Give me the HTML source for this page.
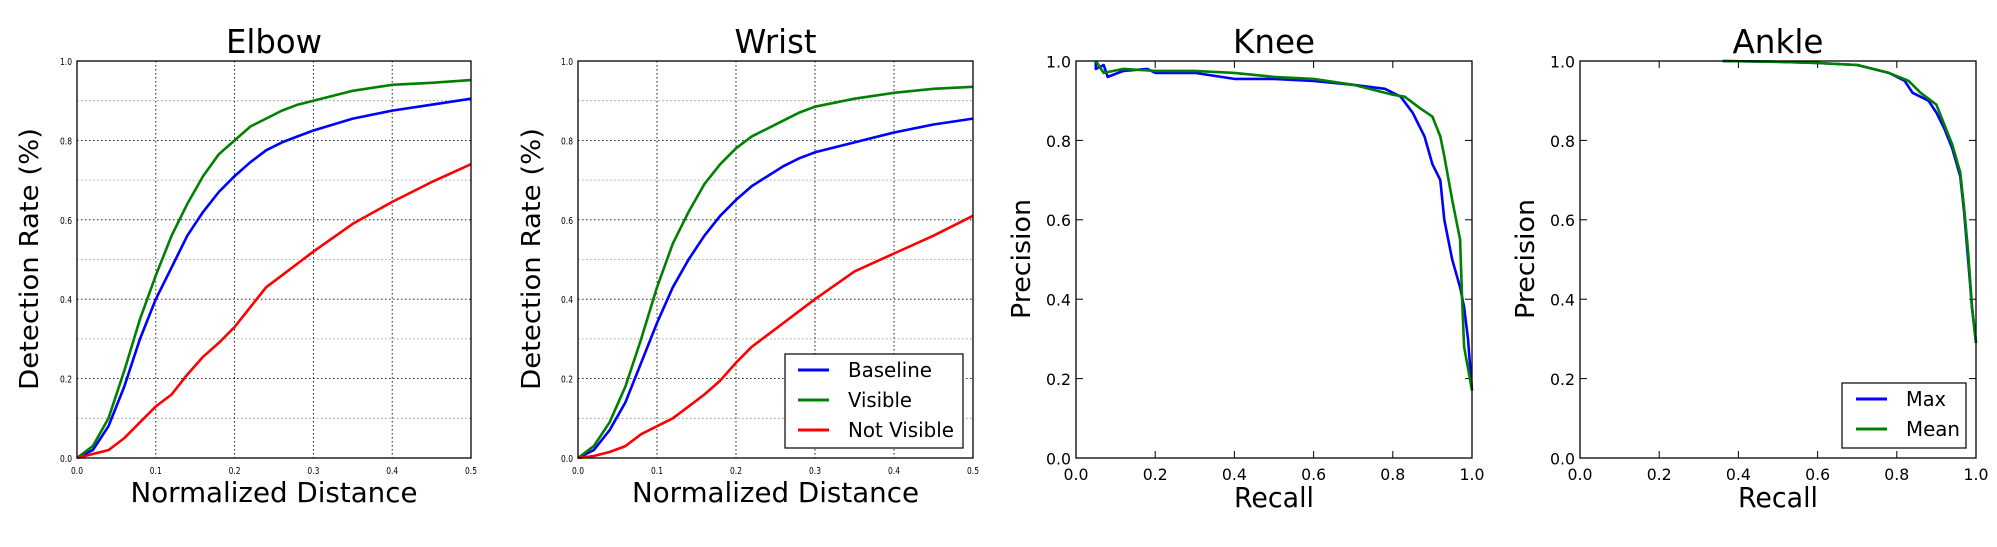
<!DOCTYPE html>
<html><head><meta charset="utf-8"><style>
html,body{margin:0;padding:0;background:#fff;width:1997px;height:547px;overflow:hidden}
svg{display:block;font-family:"DejaVu Sans","Liberation Sans",sans-serif}
</style></head><body>
<svg id="fig" width="1997" height="547" viewBox="0 0 1997 547" xmlns="http://www.w3.org/2000/svg"></svg>
<script>
// ---- data ----
const distX = [0,0.02,0.04,0.06,0.08,0.1,0.12,0.14,0.16,0.18,0.2,0.22,0.24,0.26,0.28,0.3,0.35,0.4,0.45,0.5];
const elbowBaseline = [0,0.02,0.08,0.18,0.30,0.40,0.48,0.56,0.62,0.67,0.71,0.745,0.775,0.795,0.81,0.825,0.855,0.875,0.89,0.905];
const elbowVisible = [0,0.03,0.10,0.22,0.35,0.46,0.56,0.64,0.71,0.765,0.80,0.835,0.855,0.875,0.89,0.90,0.925,0.94,0.945,0.952];
const elbowNotVisible = [0,0.01,0.02,0.05,0.09,0.13,0.16,0.21,0.255,0.29,0.33,0.38,0.43,0.46,0.49,0.52,0.59,0.645,0.695,0.74];
const wristBaseline = [0,0.02,0.07,0.14,0.24,0.34,0.43,0.50,0.56,0.61,0.65,0.685,0.71,0.735,0.755,0.77,0.795,0.82,0.84,0.855];
const wristVisible = [0,0.03,0.09,0.18,0.30,0.43,0.54,0.62,0.69,0.74,0.78,0.81,0.83,0.85,0.87,0.885,0.905,0.92,0.93,0.935];
const wristNotVisible = [0,0.005,0.015,0.03,0.06,0.08,0.10,0.13,0.16,0.195,0.24,0.28,0.31,0.34,0.37,0.40,0.47,0.515,0.56,0.61];
const kneeMaxR = [0.05,0.05,0.07,0.08,0.12,0.18,0.2,0.3,0.4,0.5,0.6,0.7,0.78,0.82,0.85,0.88,0.9,0.92,0.93,0.95,0.97,0.98,0.99,1.0];
const kneeMaxP = [1,0.98,0.99,0.96,0.975,0.98,0.97,0.97,0.955,0.955,0.95,0.94,0.93,0.91,0.87,0.81,0.74,0.70,0.60,0.50,0.43,0.38,0.30,0.17];
const kneeMeanR = [0.05,0.07,0.12,0.2,0.3,0.4,0.5,0.6,0.7,0.8,0.83,0.87,0.9,0.92,0.93,0.95,0.97,0.975,0.98,1.0];
const kneeMeanP = [1,0.97,0.98,0.975,0.975,0.97,0.96,0.955,0.94,0.915,0.91,0.88,0.86,0.81,0.76,0.65,0.55,0.40,0.28,0.17];
const ankleMaxR = [0.36,0.5,0.6,0.7,0.78,0.82,0.84,0.88,0.9,0.92,0.94,0.96,0.97,0.98,0.99,1.0];
const ankleMaxP = [1,0.998,0.995,0.99,0.97,0.95,0.92,0.90,0.87,0.83,0.78,0.71,0.62,0.5,0.38,0.29];
const ankleMeanR = [0.36,0.5,0.6,0.7,0.78,0.83,0.86,0.9,0.92,0.94,0.96,0.97,0.98,0.99,1.0];
const ankleMeanP = [1,0.998,0.995,0.99,0.97,0.95,0.92,0.89,0.84,0.79,0.72,0.63,0.52,0.38,0.29];
const distTicks = ["0.0","0.1","0.2","0.3","0.4","0.5"];
const rateTicks = ["0.0","0.2","0.4","0.6","0.8","1.0"];
const prTicks = ["0.0","0.2","0.4","0.6","0.8","1.0"];

const NS="http://www.w3.org/2000/svg";
const svg=document.getElementById('fig');
function mk(tag,attrs,parent){const e=document.createElementNS(NS,tag);for(const k in attrs)e.setAttribute(k,attrs[k]);(parent||svg).appendChild(e);return e;}
function txt(s,attrs,parent){const t=mk('text',attrs,parent);t.textContent=s;return t;}

function panel(o){
  const g=mk('g',{});
  
  
  const X=v=>o.x0+(v-o.xmin)/(o.xmax-o.xmin)*(o.x1-o.x0);
  const Y=v=>o.y1-(v)/(1)*(o.y1-o.y0);
  if(o.grid){
    for(let i=1;i<10;i+=2){const y=Y(i/10);const l=mk('line',{x1:o.x0,x2:o.x1,y1:y,y2:y,stroke:'#888','stroke-width':0.8,'stroke-dasharray':'1.5,2.5'},g);}
    o.xt.forEach((t,i)=>{const x=X(parseFloat(t));const l=mk('line',{x1:x,x2:x,y1:o.y0,y2:o.y1,stroke:'#000','stroke-width':0.9,'stroke-dasharray':'1.5,2.5'},g);});
    o.yt.forEach((t,i)=>{const y=Y(parseFloat(t));const l=mk('line',{x1:o.x0,x2:o.x1,y1:y,y2:y,stroke:'#000','stroke-width':0.9,'stroke-dasharray':'1.5,2.5'},g);});
  } else {
    o.xt.forEach(t=>{const x=X(parseFloat(t));mk('line',{x1:x,x2:x,y1:o.y1,y2:o.y1-7,stroke:'#000','stroke-width':1},g);mk('line',{x1:x,x2:x,y1:o.y0,y2:o.y0+7,stroke:'#000','stroke-width':1},g);});
    o.yt.forEach(t=>{const y=Y(parseFloat(t));mk('line',{x1:o.x0,x2:o.x0+7,y1:y,y2:y,stroke:'#000','stroke-width':1},g);mk('line',{x1:o.x1,x2:o.x1-7,y1:y,y2:y,stroke:'#000','stroke-width':1},g);});
  }
  o.series.forEach(s=>{
    const d=s.x.map((v,i)=>(i?'L':'M')+X(v).toFixed(1)+','+Y(s.y[i]).toFixed(1)).join('');
    const p=mk('path',{d:d,fill:'none',stroke:s.c,'stroke-width':2.6,'stroke-linejoin':'round'},g);
    
    
  });
  const fr=mk('rect',{x:o.x0,y:o.y0,width:o.x1-o.x0,height:o.y1-o.y0,fill:'none',stroke:'#000','stroke-width':1.3},g);
  
  
  o.xt.forEach(t=>{const e=txt(t,{x:X(parseFloat(t)),y:o.y1+o.tfs+6,'font-size':o.tfs,'text-anchor':'middle',transform:'',textLength:o.tw,lengthAdjust:'spacingAndGlyphs'},g);});
  o.yt.forEach(t=>{const e=txt(t,{x:o.x0-5,y:Y(parseFloat(t))+o.tfs*0.4,'font-size':o.tfs,'text-anchor':'end',textLength:o.tw,lengthAdjust:'spacingAndGlyphs'},g);});
  const cx=(o.x0+o.x1)/2;
  const ti=txt(o.title,{x:cx,y:53,'font-size':33,'text-anchor':'middle',textLength:o.titleW,lengthAdjust:'spacingAndGlyphs'},g);
  
  const xl=txt(o.xlabel,{x:cx,y:o.xly,'font-size':28,'text-anchor':'middle',textLength:o.xlW,lengthAdjust:'spacingAndGlyphs'},g);
  
  const yl=txt(o.ylabel,{x:0,y:0,'font-size':26,'text-anchor':'middle',textLength:o.ylW,lengthAdjust:'spacingAndGlyphs',transform:`translate(${o.ylx},259) rotate(-90)`},g);
  
  if(o.legend){
    const L=o.legend;
    const lg=mk('g',{},g);
    
    mk('rect',{x:L.x,y:L.y,width:L.w,height:L.h,fill:'#fff',stroke:'#000','stroke-width':1.2},lg);
    L.items.forEach((it,i)=>{
      const yy=L.y0+i*30;
      const en=mk('g',{},lg);
      
      mk('line',{x1:L.lx,x2:L.lx+31,y1:yy,y2:yy,stroke:it.c,'stroke-width':3},en);
      txt(it.n,{x:L.lx+50,y:yy+7,'font-size':20,textLength:it.w,lengthAdjust:'spacingAndGlyphs'},en);
    });
  }
}
const C={b:'#0000ff',g:'#008000',r:'#ff0000'};
panel({name:'elbow',x0:77,x1:471,y0:61,y1:458,xmin:0,xmax:0.5,grid:true,xt:distTicks,yt:rateTicks,tfs:10,tw:12,
 title:'Elbow',titleW:96,xlabel:'Normalized Distance',xly:502,xlW:287,ylabel:'Detection Rate (%)',ylx:38,ylW:262,
 series:[{n:'baseline',x:distX,y:elbowBaseline,c:C.b},{n:'visible',x:distX,y:elbowVisible,c:C.g},{n:'not-visible',x:distX,y:elbowNotVisible,c:C.r}]});
panel({name:'wrist',x0:578,x1:973,y0:61,y1:458,xmin:0,xmax:0.5,grid:true,xt:distTicks,yt:rateTicks,tfs:10,tw:12,
 title:'Wrist',titleW:82,xlabel:'Normalized Distance',xly:502,xlW:287,ylabel:'Detection Rate (%)',ylx:540,ylW:262,
 series:[{n:'baseline',x:distX,y:wristBaseline,c:C.b},{n:'visible',x:distX,y:wristVisible,c:C.g},{n:'not-visible',x:distX,y:wristNotVisible,c:C.r}],
 legend:{x:785,y:354,w:178,h:94,y0:370,lx:798,items:[{n:'Baseline',c:C.b,w:84},{n:'Visible',c:C.g,w:64},{n:'Not Visible',c:C.r,w:106}]}});
panel({name:'knee',x0:1076,x1:1472,y0:61,y1:458,xmin:0,xmax:1,grid:false,xt:prTicks,yt:prTicks,tfs:16,tw:25,
 title:'Knee',titleW:82,xlabel:'Recall',xly:507,xlW:80,ylabel:'Precision',ylx:1030,ylW:120,
 series:[{n:'max',x:kneeMaxR,y:kneeMaxP,c:C.b},{n:'mean',x:kneeMeanR,y:kneeMeanP,c:C.g}]});
panel({name:'ankle',x0:1580,x1:1976,y0:61,y1:458,xmin:0,xmax:1,grid:false,xt:prTicks,yt:prTicks,tfs:16,tw:25,
 title:'Ankle',titleW:91,xlabel:'Recall',xly:507,xlW:80,ylabel:'Precision',ylx:1534,ylW:120,
 series:[{n:'max',x:ankleMaxR,y:ankleMaxP,c:C.b},{n:'mean',x:ankleMeanR,y:ankleMeanP,c:C.g}],
 legend:{x:1842,y:383,w:124,h:65,y0:399,lx:1856,items:[{n:'Max',c:C.b,w:40},{n:'Mean',c:C.g,w:54}]}});
</script>
</body></html>
